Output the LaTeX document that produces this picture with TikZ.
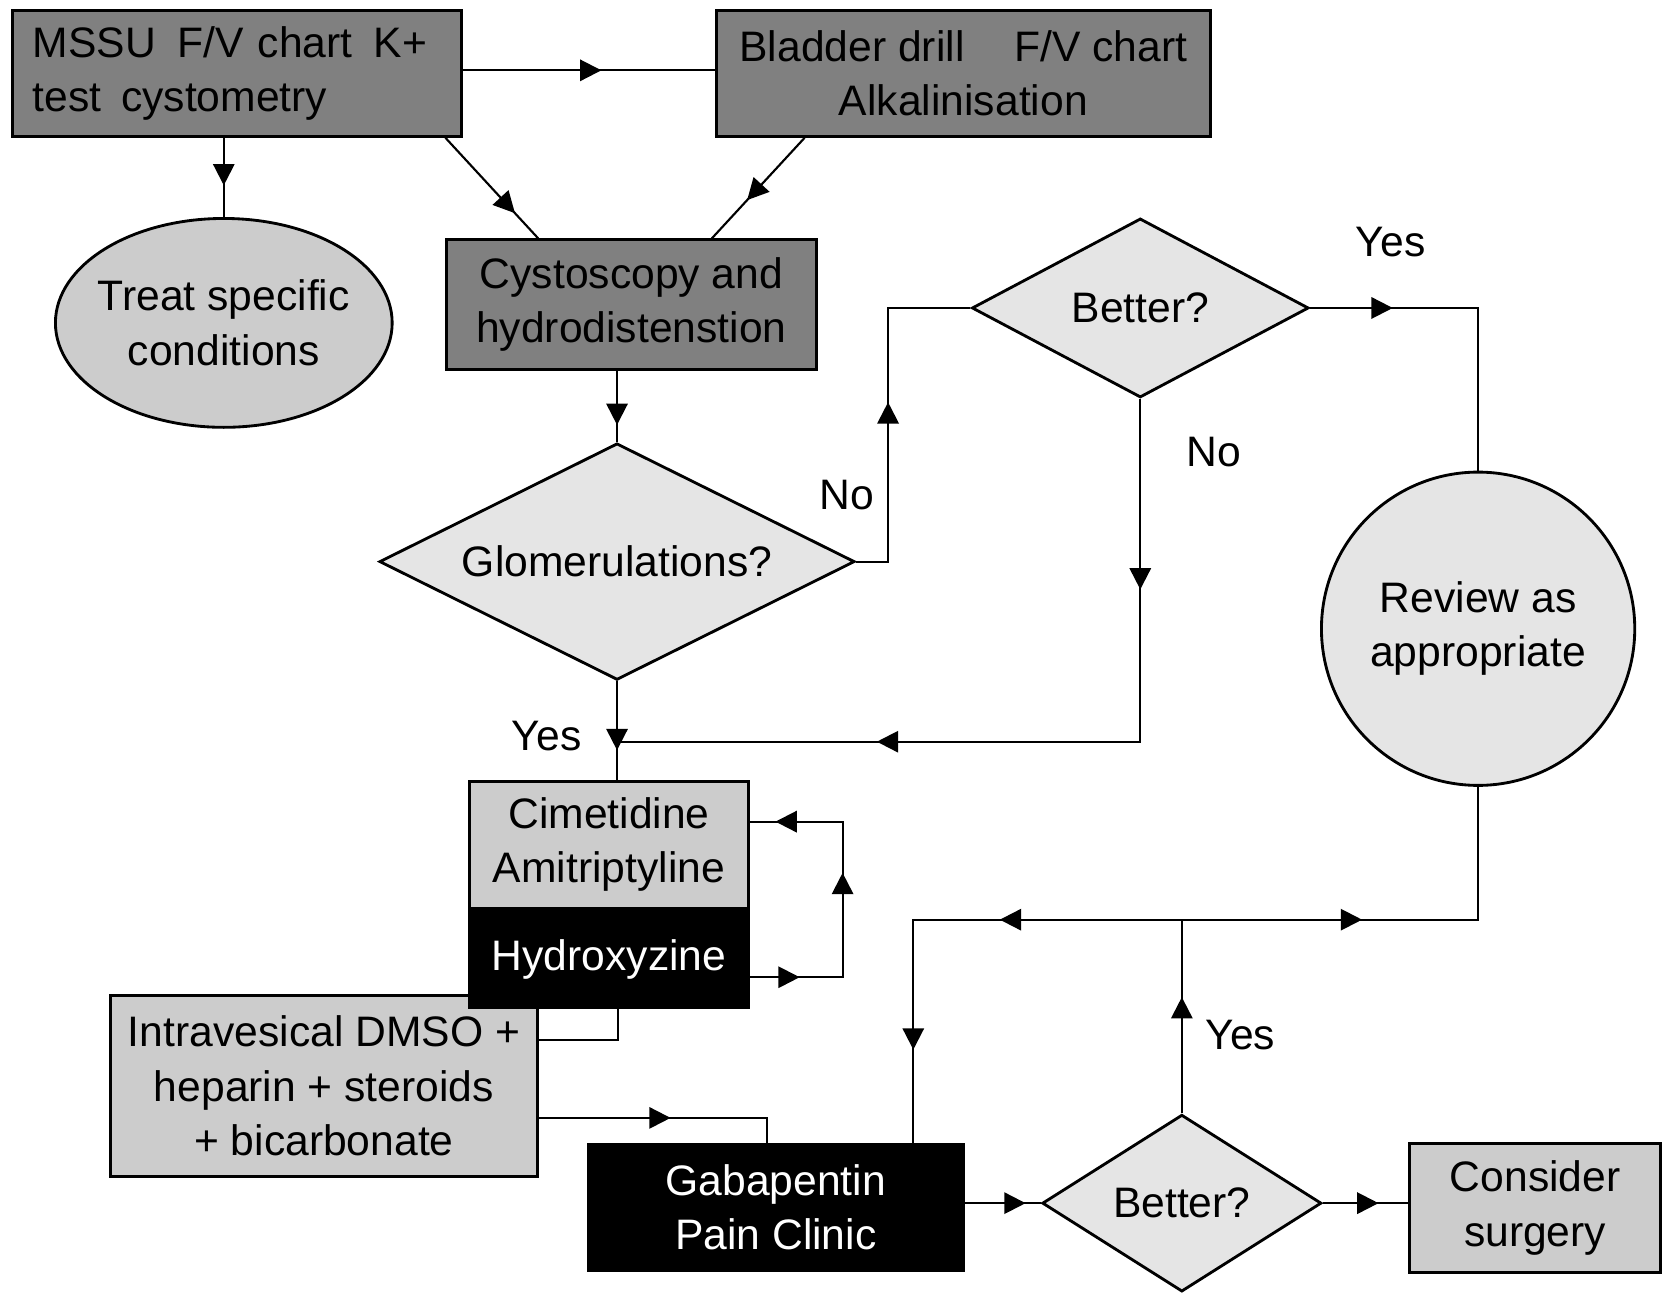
\documentclass[tikz,border=0pt]{standalone}
\usepackage{fontspec}
\setmainfont{Liberation Sans}
\usetikzlibrary{shapes.geometric,arrows.meta,decorations.markings,positioning}
\definecolor{darkfill}{gray}{0.5}
\definecolor{midfill}{gray}{0.8}
\definecolor{lightfill}{gray}{0.9}

\begin{document}
\begin{tikzpicture}[x=0.3pt, y=-0.3pt]
\tikzstyle{darkbox}=[rectangle, draw=black, line width=0.8pt, fill=darkfill, inner sep=0pt, align=center, font=\fontsize{12}{15.3}\selectfont]
\tikzstyle{greybox}=[darkbox, fill=midfill]
\tikzstyle{blackbox}=[darkbox, fill=black, text=white]
\tikzstyle{decision}=[diamond, aspect=2, draw=black, line width=0.8pt, fill=lightfill, inner sep=0pt, align=center, font=\fontsize{12}{15.3}\selectfont]
\tikzstyle{oval}=[ellipse, draw=black, line width=0.8pt, inner sep=0pt, align=center, font=\fontsize{12}{15.3}\selectfont]
\tikzstyle{lbl}=[inner sep=0pt, font=\fontsize{12}{15.3}\selectfont]
\tikzstyle{connect}=[line width=0.6pt]
\tikzset{arr/.style={postaction={decorate, decoration={markings, mark=at position #1 with {\arrow{Triangle[length=6pt, width=6pt]}}}}}}
\useasboundingbox (0,0) rectangle (1568,1214);
  \node[darkbox, minimum width=126.3pt, minimum height=35.4pt, text width=115pt, align=left] (mssu) at (222.5,69) {MSSU\hspace{6pt}F/V chart\hspace{6pt}K+\\test\hspace{5.5pt}cystometry};
  \node[darkbox, minimum width=139.2pt, minimum height=35.4pt] (drill) at (904,69) {Bladder drill\hspace{14pt}F/V chart\\Alkalinisation};
  \node[oval, fill=midfill, minimum width=94.8pt, minimum height=58.8pt] (treat) at (210,303) {\makebox[60pt]{Treat specific}\\\makebox[60pt]{conditions}};
  \node[darkbox, minimum width=104.1pt, minimum height=36.6pt] (cysto) at (592.5,286) {Cystoscopy and\\hydrodistenstion};
  \node[decision, minimum width=133.8pt, minimum height=66.6pt] (glom) at (579,527) {Glomerulations?};
  \node[decision, minimum width=94.8pt, minimum height=50.4pt] (better1) at (1070,289) {Better?};
  \node[oval, circle, fill=lightfill, minimum size=88.2pt] (review) at (1387,590) {Review as\\appropriate};
  \node[greybox, minimum width=78.5pt, minimum height=35.7pt] (cimet) at (571.5,792.5) {Cimetidine\\Amitriptyline};
  \node[greybox, minimum width=120pt, minimum height=51pt] (intra) at (304,1019) {Intravesical DMSO +\\heparin + steroids\\+ bicarbonate};
  \node[blackbox, minimum width=78.5pt, minimum height=27.3pt, below=0pt of cimet] (hydroxy) {Hydroxyzine};
  \node[blackbox, minimum width=105.6pt, minimum height=35.4pt] (gaba) at (728,1133) {Gabapentin\\Pain Clinic};
  \node[decision, minimum width=78.6pt, minimum height=49.8pt] (better2) at (1109,1129) {Better?};
  \node[greybox, minimum width=70.5pt, minimum height=36.3pt] (surgery) at (1440.5,1133.5) {Consider\\surgery};

  \node[lbl] (no1) at (795,465) {No};
  \node[lbl] (no2) at (1139,424) {No};
  \node[lbl] (yes1) at (1305,227) {Yes};
  \node[lbl] (yes2) at (513,691) {Yes};
  \node[lbl] (yes3) at (1164,971) {Yes};

  \draw[connect, arr=0.55] (mssu.east |- 0,66) -- (drill.west |- 0,66);
  \draw[connect, arr=0.6] (mssu.south -| treat.north) -- (treat.north);
  \draw[connect, arr=0.75] (mssu.south -| 418,0) -- (cysto.north -| 505,0);
  \draw[connect, arr=0.62] (drill.south -| 755,0) -- (cysto.north -| 668,0);
  \draw[connect, arr=0.76] (cysto.south -| glom.north) -- (glom.north);
  \draw[connect, arr=0.52] (glom.east) -- ++(30,0) |- (better1.west);
  \draw[connect, arr=0.25] (better1.east) -| (review.north);
  \coordinate (join) at (glom.south |- 0,696);
  \draw[connect, arr=0.22, arr=0.70] (better1.south) |- (join);
  \draw[connect, arr=0.70] (glom.south) -- (glom.south |- cimet.north);
  \draw[connect, arr=0.146, arr=0.578, arr=0.925] (hydroxy.east |- 0,917) -- ++(87,0) |- (cimet.east |- 0,771);
  \draw[connect] (hydroxy.south -| 580,0) |- (intra.east |- 0,976);
  \draw[connect, arr=0.52] (intra.east |- 0,1049) -| (gaba.north -| 720,0);
  \draw[connect, arr=0.8] (gaba.east |- better2.west) -- (better2.west);
  \draw[connect, arr=0.65] (better2.east) -- (surgery.west |- better2.east);
  \coordinate (split) at (better2.north |- 0,863);
  \draw[connect, arr=0.6] (better2.north) -- (split);
  \draw[connect, arr=0.42] (split) -| (review.south);
  \draw[connect, arr=0.37, arr=0.81] (split) -| (gaba.north -| 857,0);
\end{tikzpicture}
\end{document}
